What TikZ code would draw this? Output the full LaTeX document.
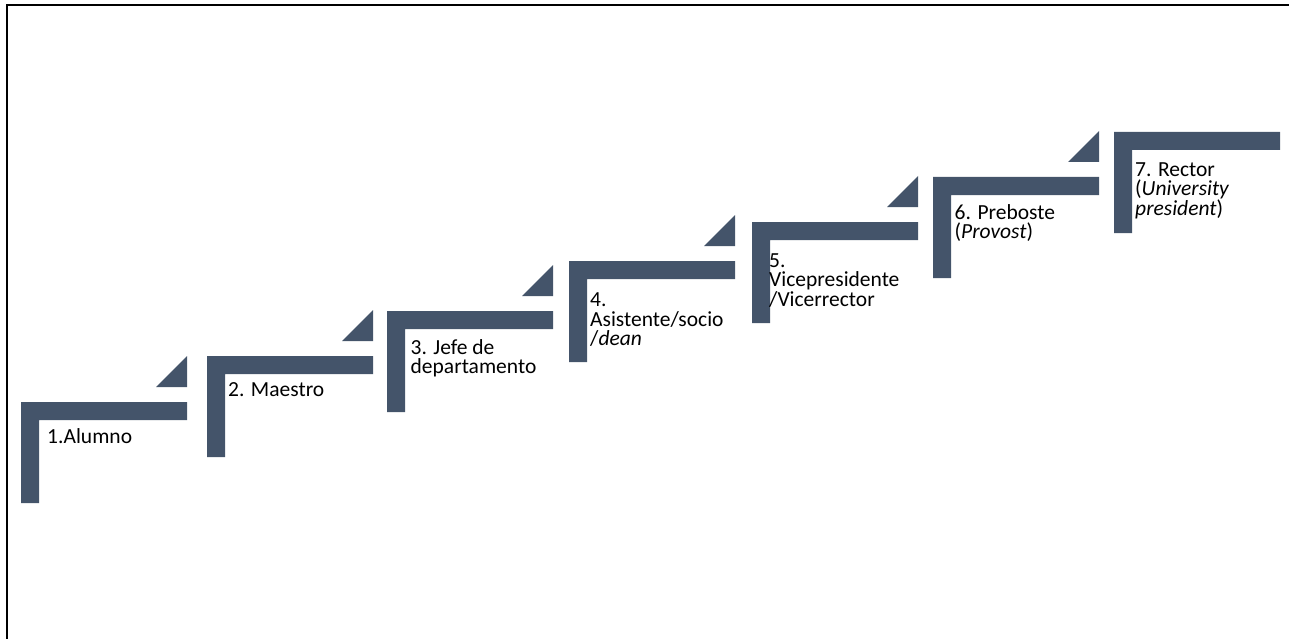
\documentclass[tikz,border=0pt]{standalone}
\usepackage{fontspec}
\setmainfont{Carlito}
\definecolor{slate}{HTML}{44546A}
\begin{document}
\begin{tikzpicture}[x=1pt, y=-1pt,
    stair/.style={fill=slate, draw=none},
    rung/.style={anchor=base west, inner sep=0pt, align=left, font=\fontsize{21.5}{19.5}\selectfont}]
	    \useasboundingbox (0,0) rectangle (1289,639);
	    \draw[line width=2pt] (7,639) -- (7,5) -- (1289,5);
	    % stairs
	    \fill[stair] (21,402) -- ++(166,0) -- ++(0,18) -- ++(-148,0) -- ++(0,83) -- ++(-18,0) -- cycle;
	    \fill[stair] (207,356) -- ++(166,0) -- ++(0,18) -- ++(-148,0) -- ++(0,83) -- ++(-18,0) -- cycle;
	    \fill[stair] (387,311) -- ++(166,0) -- ++(0,18) -- ++(-148,0) -- ++(0,83) -- ++(-18,0) -- cycle;
	    \fill[stair] (569,261) -- ++(166,0) -- ++(0,18) -- ++(-148,0) -- ++(0,83) -- ++(-18,0) -- cycle;
	    \fill[stair] (752,222) -- ++(166,0) -- ++(0,18) -- ++(-148,0) -- ++(0,83) -- ++(-18,0) -- cycle;
	    \fill[stair] (933,177) -- ++(166,0) -- ++(0,18) -- ++(-148,0) -- ++(0,83) -- ++(-18,0) -- cycle;
	    \fill[stair] (1114,132) -- ++(166,0) -- ++(0,18) -- ++(-148,0) -- ++(0,83) -- ++(-18,0) -- cycle;
	    % arrows
	    \fill[stair] (156,387) -- ++(31,0) -- ++(0,-31) -- cycle;
	    \fill[stair] (342,341) -- ++(31,0) -- ++(0,-31) -- cycle;
	    \fill[stair] (522,296) -- ++(31,0) -- ++(0,-31) -- cycle;
	    \fill[stair] (704,246) -- ++(31,0) -- ++(0,-31) -- cycle;
	    \fill[stair] (887,207) -- ++(31,0) -- ++(0,-31) -- cycle;
	    \fill[stair] (1068,162) -- ++(31,0) -- ++(0,-31) -- cycle;
	    % labels (base = last line)
	    \node[rung] (alumno) at (47,443) {1.Alumno};
	    \node[rung] (maestro) at (228,396) {2. Maestro};
	    \node[rung] (jefe) at (410.5,373.5) {3. Jefe de\\departamento};
	    \node[rung] (dean) at (590,345.5) {4.\\Asistente/socio\\/\textit{dean}};
	    \node[rung] (vice) at (769,306) {5.\\Vicepresidente\\/Vicerrector};
	    \node[rung] (preboste) at (954.5,238.5) {6. Preboste\\(\textit{Provost})};
	    \node[rung] (rector) at (1135,215) {7. Rector\\(\textit{University}\\\textit{president})};
	\end{tikzpicture}
\end{document}
